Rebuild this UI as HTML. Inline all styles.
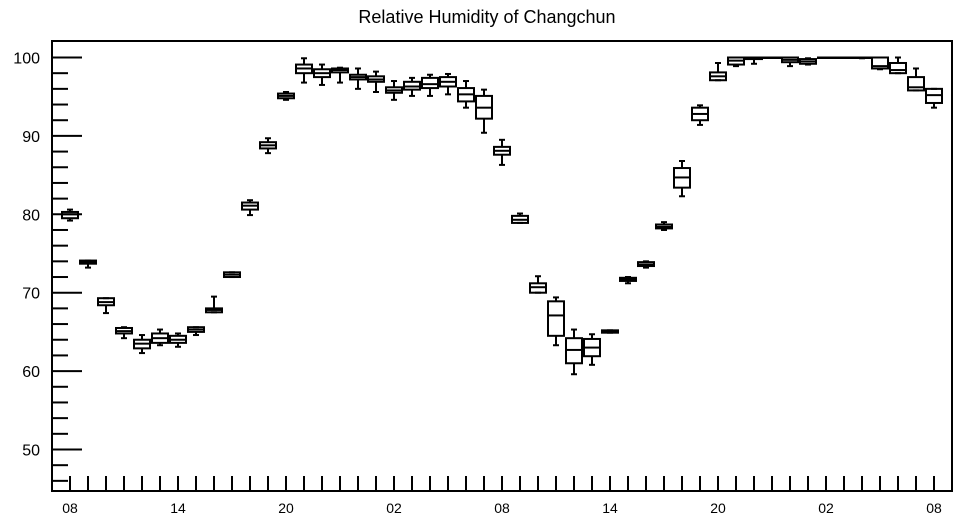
<!DOCTYPE html>
<html><head><meta charset="utf-8"><style>
html,body{margin:0;padding:0;background:#fff;}
svg{display:block;font-family:"Liberation Sans",Arial,sans-serif;}
</style></head><body>
<svg id="chart" width="957" height="520" viewBox="0 0 957 520">
<text x="487" y="23" text-anchor="middle" font-size="18">Relative Humidity of Changchun</text>
<rect x="52" y="41" width="900" height="450" fill="none" stroke="#000" stroke-width="2"/>
<g id="axes"></g>
<g id="boxes"></g>
</svg>
<script>
const hourLabels = ["08","09","10","11","12","13","14","15","16","17","18","19","20","21","22","23","00","01","02","03","04","05","06","07","08","09","10","11","12","13","14","15","16","17","18","19","20","21","22","23","00","01","02","03","04","05","06","07","08"];
const mins = [79.2,73.2,67.4,64.2,62.3,63.3,63.1,64.6,67.5,72.0,79.9,87.8,94.6,96.8,96.5,96.8,96.0,95.6,94.6,95.1,95.1,95.3,93.6,90.4,86.3,78.9,70.0,63.3,59.6,60.8,64.9,71.2,73.2,78.0,82.3,91.4,97.1,98.9,99.2,100,98.9,99.1,100,100,99.9,98.5,98.0,95.8,93.6];
const q1s = [79.5,73.7,68.4,64.8,62.9,63.6,63.6,65.0,67.5,72.0,80.6,88.4,94.8,98.0,97.5,98.1,97.2,96.9,95.5,95.9,96.1,96.3,94.4,92.2,87.6,78.9,70.0,64.5,61.0,61.9,64.9,71.5,73.4,78.2,83.4,92.0,97.1,99.1,99.8,100,99.4,99.2,100,100,100,98.6,98.0,95.8,94.2];
const medians = [80.0,73.9,68.8,65.1,63.5,64.2,64.0,65.3,67.8,72.3,81.1,88.8,95.1,98.6,98.0,98.4,97.5,97.2,95.8,96.3,96.6,96.9,95.3,93.6,88.1,79.3,70.7,67.1,62.7,63.0,65.0,71.7,73.6,78.4,84.7,92.8,97.6,99.6,99.9,100,99.7,99.5,100,100,100,98.9,98.4,96.2,95.2];
const q3s = [80.3,74.1,69.3,65.5,64.0,64.8,64.5,65.6,68.0,72.6,81.5,89.2,95.4,99.1,98.5,98.6,97.8,97.6,96.2,96.9,97.4,97.5,96.1,95.1,88.6,79.8,71.2,68.9,64.2,64.1,65.2,71.9,73.9,78.7,85.9,93.6,98.1,100,100,100,100,99.8,100,100,100,100,99.3,97.5,96.0];
const maxs = [80.6,74.1,69.3,65.6,64.6,65.3,64.8,65.6,69.5,72.6,81.8,89.7,95.6,99.9,99.1,98.7,98.6,98.2,97.0,97.4,97.8,97.9,97.0,95.9,89.5,80.1,72.1,69.4,65.3,64.7,65.2,72.0,74.0,79.0,86.8,93.9,99.3,100,100,100,100,99.9,100,100,100,100,100,98.6,96.0];
const yTickLabels = [50,60,70,80,90,100];

const NS = "http://www.w3.org/2000/svg";
function yScale(v){ return 57.5 + (100 - v) * 7.84; }
function xScale(i){ return 70 + i * 18; }
function mk(tag, attrs, parent){ const e=document.createElementNS(NS,tag); for(const k in attrs) e.setAttribute(k,attrs[k]); parent.appendChild(e); return e; }

const axes = document.getElementById("axes");
// y ticks: minor every 2 units
for(let v=46; v<=100; v+=2){
  const y=yScale(v);
  const major = v%10===0;
  const t = mk("line",{x1:52,x2:major?82:68,y1:y,y2:y,stroke:"#000","stroke-width":2},axes);
  
  
}
yTickLabels.forEach(v=>{
  const t=mk("text",{x:40,y:yScale(v)+6,"text-anchor":"end","font-size":16},axes);
  t.textContent=v;
  
  
});
hourLabels.forEach((h,i)=>{
  const x=xScale(i);
  const t=mk("line",{x1:x,x2:x,y1:491,y2:476,stroke:"#000","stroke-width":2},axes);
  
  
  if(i%6===0){
    const l=mk("text",{x:x,y:513,"text-anchor":"middle","font-size":14},axes);
    l.textContent=h;
    
    
  }
});

const boxes=document.getElementById("boxes");
hourLabels.forEach((h,i)=>{
  const x=xScale(i), w=16;
  const g=mk("g",{stroke:"#000","stroke-width":2,fill:"none"},boxes);
  
  
  const yMax=yScale(maxs[i]), yMin=yScale(mins[i]), yQ3=yScale(q3s[i]), yQ1=yScale(q1s[i]), yMed=yScale(medians[i]);
  mk("line",{x1:x,x2:x,y1:yMax,y2:yQ3},g);
  mk("line",{x1:x,x2:x,y1:yQ1,y2:yMin},g);
  mk("line",{x1:x-3,x2:x+3,y1:yMax,y2:yMax},g);
  mk("line",{x1:x-3,x2:x+3,y1:yMin,y2:yMin},g);
  mk("rect",{x:x-w/2,y:yQ3,width:w,height:Math.max(yQ1-yQ3,0.5)},g);
  mk("line",{x1:x-w/2,x2:x+w/2,y1:yMed,y2:yMed},g);
});
</script>
</body></html>
